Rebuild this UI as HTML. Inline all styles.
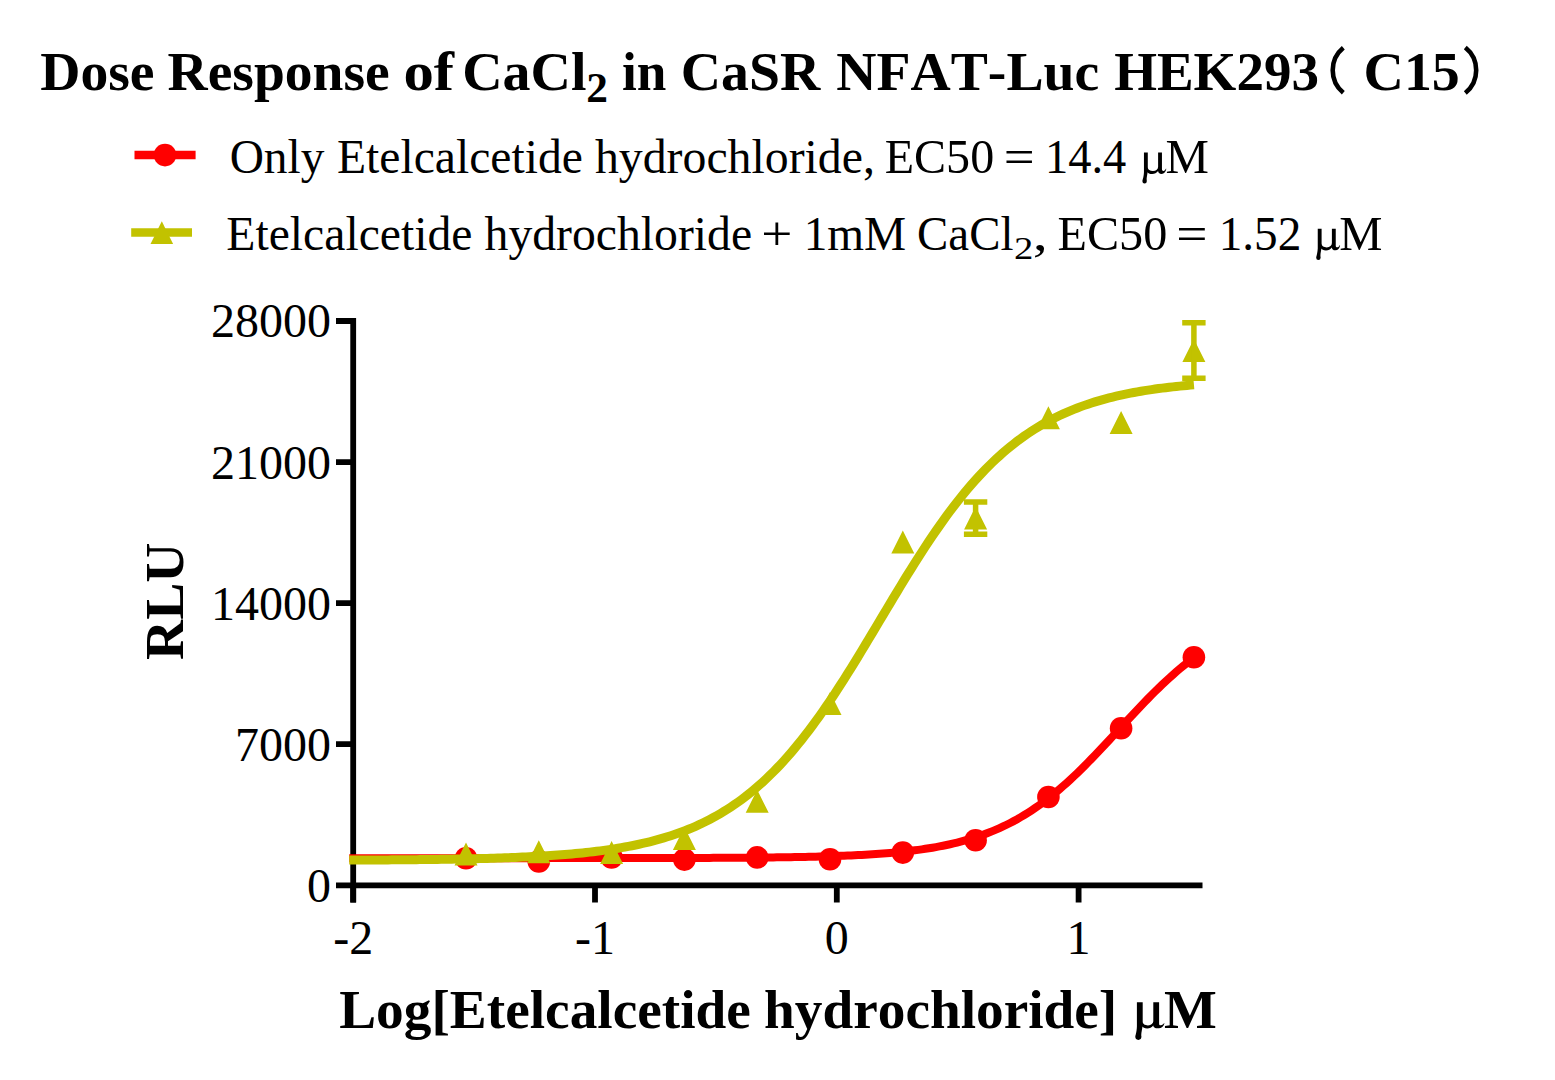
<!DOCTYPE html>
<html><head><meta charset="utf-8"><style>
html,body{margin:0;padding:0;background:#fff;overflow:hidden;width:1555px;height:1080px;}
svg{display:block;}
text{font-kerning:none;}
</style></head><body>
<svg width="1555" height="1080" viewBox="0 0 1555 1080">
<rect width="1555" height="1080" fill="#fff"/>
<path d="M353.2,318 V902.5 M336,321 H356 M336,462.1 H356 M336,603.2 H356 M336,744.2 H356 M336,885.3 H1202.5" stroke="#000" stroke-width="5.8" fill="none"/>
<path d="M353.2,883 V902.5 M595.0,883 V902.5 M836.8,883 V902.5 M1078.6,883 V902.5" stroke="#000" stroke-width="5.8" fill="none"/>
<path d="M349.21,858.14 L352.74,858.14 L356.28,858.14 L359.81,858.14 L363.35,858.14 L366.88,858.14 L370.42,858.14 L373.95,858.14 L377.49,858.14 L381.02,858.14 L384.55,858.14 L388.09,858.14 L391.62,858.14 L395.16,858.14 L398.69,858.14 L402.23,858.14 L405.76,858.14 L409.30,858.14 L412.83,858.14 L416.36,858.14 L419.90,858.14 L423.43,858.14 L426.97,858.14 L430.50,858.14 L434.04,858.14 L437.57,858.14 L441.11,858.14 L444.64,858.14 L448.17,858.14 L451.71,858.14 L455.24,858.14 L458.78,858.13 L462.31,858.13 L465.85,858.13 L469.38,858.13 L472.92,858.13 L476.45,858.13 L479.98,858.13 L483.52,858.13 L487.05,858.13 L490.59,858.13 L494.12,858.13 L497.66,858.13 L501.19,858.13 L504.73,858.13 L508.26,858.13 L511.79,858.13 L515.33,858.13 L518.86,858.13 L522.40,858.13 L525.93,858.13 L529.47,858.13 L533.00,858.13 L536.53,858.13 L540.07,858.12 L543.60,858.12 L547.14,858.12 L550.67,858.12 L554.21,858.12 L557.74,858.12 L561.28,858.12 L564.81,858.12 L568.34,858.12 L571.88,858.11 L575.41,858.11 L578.95,858.11 L582.48,858.11 L586.02,858.11 L589.55,858.11 L593.09,858.10 L596.62,858.10 L600.15,858.10 L603.69,858.10 L607.22,858.09 L610.76,858.09 L614.29,858.09 L617.83,858.09 L621.36,858.08 L624.90,858.08 L628.43,858.08 L631.96,858.07 L635.50,858.07 L639.03,858.06 L642.57,858.06 L646.10,858.05 L649.64,858.05 L653.17,858.04 L656.71,858.04 L660.24,858.03 L663.77,858.02 L667.31,858.02 L670.84,858.01 L674.38,858.00 L677.91,857.99 L681.45,857.98 L684.98,857.97 L688.52,857.96 L692.05,857.95 L695.58,857.94 L699.12,857.93 L702.65,857.92 L706.19,857.90 L709.72,857.89 L713.26,857.87 L716.79,857.86 L720.33,857.84 L723.86,857.82 L727.39,857.80 L730.93,857.78 L734.46,857.76 L738.00,857.74 L741.53,857.71 L745.07,857.69 L748.60,857.66 L752.14,857.63 L755.67,857.60 L759.20,857.56 L762.74,857.53 L766.27,857.49 L769.81,857.45 L773.34,857.41 L776.88,857.36 L780.41,857.31 L783.94,857.26 L787.48,857.21 L791.01,857.15 L794.55,857.09 L798.08,857.03 L801.62,856.96 L805.15,856.89 L808.69,856.81 L812.22,856.73 L815.75,856.64 L819.29,856.55 L822.82,856.45 L826.36,856.35 L829.89,856.24 L833.43,856.12 L836.96,856.00 L840.50,855.87 L844.03,855.73 L847.56,855.58 L851.10,855.42 L854.63,855.26 L858.17,855.08 L861.70,854.90 L865.24,854.70 L868.77,854.49 L872.31,854.27 L875.84,854.03 L879.37,853.78 L882.91,853.52 L886.44,853.24 L889.98,852.94 L893.51,852.62 L897.05,852.29 L900.58,851.94 L904.12,851.57 L907.65,851.17 L911.18,850.75 L914.72,850.31 L918.25,849.84 L921.79,849.35 L925.32,848.82 L928.86,848.27 L932.39,847.68 L935.93,847.07 L939.46,846.41 L942.99,845.72 L946.53,844.99 L950.06,844.23 L953.60,843.42 L957.13,842.56 L960.67,841.66 L964.20,840.71 L967.74,839.71 L971.27,838.66 L974.80,837.55 L978.34,836.39 L981.87,835.16 L985.41,833.88 L988.94,832.53 L992.48,831.11 L996.01,829.63 L999.55,828.07 L1003.08,826.44 L1006.61,824.74 L1010.15,822.96 L1013.68,821.10 L1017.22,819.16 L1020.75,817.13 L1024.29,815.02 L1027.82,812.83 L1031.35,810.55 L1034.89,808.18 L1038.42,805.73 L1041.96,803.18 L1045.49,800.55 L1049.03,797.83 L1052.56,795.02 L1056.10,792.12 L1059.63,789.14 L1063.16,786.08 L1066.70,782.93 L1070.23,779.70 L1073.77,776.40 L1077.30,773.03 L1080.84,769.59 L1084.37,766.08 L1087.91,762.52 L1091.44,758.90 L1094.97,755.23 L1098.51,751.51 L1102.04,747.76 L1105.58,743.98 L1109.11,740.18 L1112.65,736.35 L1116.18,732.52 L1119.72,728.68 L1123.25,724.84 L1126.78,721.01 L1130.32,717.20 L1133.85,713.41 L1137.39,709.65 L1140.92,705.93 L1144.46,702.25 L1147.99,698.61 L1151.53,695.03 L1155.06,691.51 L1158.59,688.05 L1162.13,684.66 L1165.66,681.34 L1169.20,678.09 L1172.73,674.92 L1176.27,671.84 L1179.80,668.83 L1183.34,665.92 L1186.87,663.08 L1190.40,660.34 L1193.94,657.68" stroke="#ff0000" stroke-width="8" fill="none"/>
<circle cx="1193.9" cy="657.3" r="11.3" fill="#ff0000"/>
<circle cx="1121.1" cy="728.3" r="11.3" fill="#ff0000"/>
<circle cx="1048.4" cy="797" r="11.3" fill="#ff0000"/>
<circle cx="975.6" cy="840.3" r="11.3" fill="#ff0000"/>
<circle cx="902.8" cy="852.6" r="11.3" fill="#ff0000"/>
<circle cx="830.0" cy="859.3" r="11.3" fill="#ff0000"/>
<circle cx="757.2" cy="857.4" r="11.3" fill="#ff0000"/>
<circle cx="684.4" cy="859.6" r="11.3" fill="#ff0000"/>
<circle cx="611.6" cy="857.5" r="11.3" fill="#ff0000"/>
<circle cx="538.8" cy="861.4" r="11.3" fill="#ff0000"/>
<circle cx="466.0" cy="858.2" r="11.3" fill="#ff0000"/>
<path d="M349.21,860.10 L352.74,860.09 L356.28,860.07 L359.81,860.06 L363.35,860.04 L366.88,860.02 L370.42,860.00 L373.95,859.98 L377.49,859.96 L381.02,859.94 L384.55,859.91 L388.09,859.89 L391.62,859.86 L395.16,859.84 L398.69,859.81 L402.23,859.78 L405.76,859.75 L409.30,859.72 L412.83,859.68 L416.36,859.65 L419.90,859.61 L423.43,859.57 L426.97,859.53 L430.50,859.48 L434.04,859.44 L437.57,859.39 L441.11,859.34 L444.64,859.28 L448.17,859.23 L451.71,859.17 L455.24,859.11 L458.78,859.04 L462.31,858.97 L465.85,858.90 L469.38,858.83 L472.92,858.75 L476.45,858.67 L479.98,858.58 L483.52,858.49 L487.05,858.39 L490.59,858.29 L494.12,858.18 L497.66,858.07 L501.19,857.96 L504.73,857.83 L508.26,857.71 L511.79,857.57 L515.33,857.43 L518.86,857.28 L522.40,857.12 L525.93,856.96 L529.47,856.79 L533.00,856.61 L536.53,856.42 L540.07,856.22 L543.60,856.01 L547.14,855.79 L550.67,855.56 L554.21,855.32 L557.74,855.06 L561.28,854.80 L564.81,854.52 L568.34,854.23 L571.88,853.92 L575.41,853.60 L578.95,853.26 L582.48,852.91 L586.02,852.53 L589.55,852.14 L593.09,851.74 L596.62,851.31 L600.15,850.86 L603.69,850.39 L607.22,849.89 L610.76,849.38 L614.29,848.83 L617.83,848.26 L621.36,847.67 L624.90,847.04 L628.43,846.39 L631.96,845.71 L635.50,844.99 L639.03,844.24 L642.57,843.45 L646.10,842.63 L649.64,841.77 L653.17,840.86 L656.71,839.92 L660.24,838.93 L663.77,837.90 L667.31,836.82 L670.84,835.69 L674.38,834.52 L677.91,833.28 L681.45,832.00 L684.98,830.65 L688.52,829.25 L692.05,827.78 L695.58,826.26 L699.12,824.66 L702.65,823.00 L706.19,821.27 L709.72,819.46 L713.26,817.58 L716.79,815.62 L720.33,813.58 L723.86,811.46 L727.39,809.25 L730.93,806.96 L734.46,804.58 L738.00,802.10 L741.53,799.54 L745.07,796.87 L748.60,794.11 L752.14,791.24 L755.67,788.28 L759.20,785.21 L762.74,782.03 L766.27,778.75 L769.81,775.36 L773.34,771.86 L776.88,768.25 L780.41,764.53 L783.94,760.69 L787.48,756.75 L791.01,752.69 L794.55,748.52 L798.08,744.23 L801.62,739.84 L805.15,735.34 L808.69,730.73 L812.22,726.02 L815.75,721.20 L819.29,716.28 L822.82,711.26 L826.36,706.15 L829.89,700.94 L833.43,695.65 L836.96,690.28 L840.50,684.82 L844.03,679.30 L847.56,673.70 L851.10,668.05 L854.63,662.34 L858.17,656.57 L861.70,650.77 L865.24,644.93 L868.77,639.05 L872.31,633.16 L875.84,627.24 L879.37,621.32 L882.91,615.40 L886.44,609.48 L889.98,603.57 L893.51,597.68 L897.05,591.82 L900.58,585.99 L904.12,580.20 L907.65,574.46 L911.18,568.77 L914.72,563.14 L918.25,557.58 L921.79,552.08 L925.32,546.66 L928.86,541.32 L932.39,536.06 L935.93,530.90 L939.46,525.82 L942.99,520.84 L946.53,515.97 L950.06,511.19 L953.60,506.52 L957.13,501.95 L960.67,497.50 L964.20,493.15 L967.74,488.91 L971.27,484.79 L974.80,480.78 L978.34,476.88 L981.87,473.09 L985.41,469.41 L988.94,465.85 L992.48,462.39 L996.01,459.05 L999.55,455.81 L1003.08,452.68 L1006.61,449.65 L1010.15,446.73 L1013.68,443.91 L1017.22,441.18 L1020.75,438.56 L1024.29,436.03 L1027.82,433.59 L1031.35,431.25 L1034.89,428.99 L1038.42,426.82 L1041.96,424.73 L1045.49,422.73 L1049.03,420.80 L1052.56,418.95 L1056.10,417.18 L1059.63,415.47 L1063.16,413.84 L1066.70,412.27 L1070.23,410.77 L1073.77,409.33 L1077.30,407.95 L1080.84,406.63 L1084.37,405.37 L1087.91,404.16 L1091.44,403.00 L1094.97,401.89 L1098.51,400.83 L1102.04,399.82 L1105.58,398.85 L1109.11,397.93 L1112.65,397.04 L1116.18,396.20 L1119.72,395.39 L1123.25,394.62 L1126.78,393.88 L1130.32,393.18 L1133.85,392.50 L1137.39,391.86 L1140.92,391.25 L1144.46,390.66 L1147.99,390.11 L1151.53,389.58 L1155.06,389.07 L1158.59,388.58 L1162.13,388.12 L1165.66,387.68 L1169.20,387.26 L1172.73,386.86 L1176.27,386.48 L1179.80,386.11 L1183.34,385.77 L1186.87,385.43 L1190.40,385.12 L1193.94,384.82" stroke="#c2c200" stroke-width="9" fill="none"/>
<path d="M1182.4,362.0 L1193.9,339.0 L1205.4,362.0 Z M1109.6,434.1 L1121.1,411.1 L1132.6,434.1 Z M1036.9,429.3 L1048.4,406.3 L1059.9,429.3 Z M964.1,529.5 L975.6,506.5 L987.1,529.5 Z M891.3,553.5 L902.8,530.5 L914.3,553.5 Z M818.5,715.0 L830.0,692.0 L841.5,715.0 Z M745.7,812.8 L757.2,789.8 L768.7,812.8 Z M672.9,850.0 L684.4,827.0 L695.9,850.0 Z M600.1,863.9 L611.6,840.9 L623.1,863.9 Z M527.3,863.3 L538.8,840.3 L550.3,863.3 Z M454.5,865.6 L466.0,842.6 L477.5,865.6 Z" fill="#c2c200"/>
<path d="M1193.9,322.7 V378.2 M1182.2,322.7 H1205.6 M1182.2,378.2 H1205.6" stroke="#c2c200" stroke-width="5.5" fill="none"/>
<path d="M975.6,501.9 V534.3 M963.9,501.9 H987.3 M963.9,534.3 H987.3" stroke="#c2c200" stroke-width="5.5" fill="none"/>
<path d="M1343.3,47.8 A29.2,29.2 0 0 0 1343.3,92.8 M1465.3,47.5 A29.2,29.2 0 0 1 1465.3,93" stroke="#000" stroke-width="4.6" fill="none"/>
<path d="M134.5,155 H195.6" stroke="#ff0000" stroke-width="8.3"/><circle cx="165" cy="155.1" r="11.3" fill="#ff0000"/>
<path d="M131.2,232.5 H192" stroke="#c2c200" stroke-width="8.3"/><path d="M150.5,243.9 L161.8,221.3 L173.1,243.9 Z" fill="#c2c200"/>
<text transform="translate(40.22,90.4) scale(1.0113,1)" font-family="&quot;Liberation Serif&quot;, serif" font-weight="bold" font-size="55">Dose</text>
<text transform="translate(167.55,90.4) scale(1.0103,1)" font-family="&quot;Liberation Serif&quot;, serif" font-weight="bold" font-size="55">Response</text>
<text transform="translate(403.39,90.4) scale(1.1049,1)" font-family="&quot;Liberation Serif&quot;, serif" font-weight="bold" font-size="55">of</text>
<text transform="translate(462.17,90.4) scale(1.0169,1)" font-family="&quot;Liberation Serif&quot;, serif" font-weight="bold" font-size="55">CaCl</text>
<text transform="translate(621.93,90.4) scale(0.9674,1)" font-family="&quot;Liberation Serif&quot;, serif" font-weight="bold" font-size="55">in</text>
<text transform="translate(680.78,90.4) scale(1.0139,1)" font-family="&quot;Liberation Serif&quot;, serif" font-weight="bold" font-size="55">CaSR</text>
<text transform="translate(836.24,90.4) scale(1.0128,1)" font-family="&quot;Liberation Serif&quot;, serif" font-weight="bold" font-size="55">NFAT-Luc</text>
<text x="1114.16" y="90.4" font-family="&quot;Liberation Serif&quot;, serif" font-weight="bold" font-size="55">HEK293</text>
<text transform="translate(1363.57,90.4) scale(1.0164,1)" font-family="&quot;Liberation Serif&quot;, serif" font-weight="bold" font-size="55">C15</text>
<text transform="translate(586.18,101.6) scale(1.0326,1)" font-family="&quot;Liberation Serif&quot;, serif" font-weight="bold" font-size="42">2</text>
<text transform="translate(229.66,173.2) scale(0.9867,1)" font-family="&quot;Liberation Serif&quot;, serif" font-size="48">Only</text>
<text transform="translate(336.93,173.2) scale(0.9927,1)" font-family="&quot;Liberation Serif&quot;, serif" font-size="48">Etelcalcetide</text>
<text transform="translate(594.93,173.2) scale(0.9958,1)" font-family="&quot;Liberation Serif&quot;, serif" font-size="48">hydrochloride,</text>
<text transform="translate(884.71,173.2) scale(1.0016,1)" font-family="&quot;Liberation Serif&quot;, serif" font-size="48">EC50</text>
<text transform="translate(1003.77,173.2) scale(1.1417,1)" font-family="&quot;Liberation Serif&quot;, serif" font-size="48">=</text>
<text transform="translate(1045.02,173.2) scale(0.9680,1)" font-family="&quot;Liberation Serif&quot;, serif" font-size="48">14.4</text>
<text transform="translate(1165.59,173.2) scale(1.0178,1)" font-family="&quot;Liberation Serif&quot;, serif" font-size="48">M</text>
<path transform="translate(1142.4,173.2) scale(1.0)" d="M1.55,-20.8 H5.4 V-6 C5.4,-3.4 7.550000000000001,-2.2 10.55,-2.2 C13.75,-2.2 15.7,-4.2 15.7,-6.5 V-20.8 H19.55 V-4.2 C19.55,-2.4 20.45,-2.1 21.45,-2.3 C22.35,-2.5 23.2,-3.6 23.599999999999998,-4.6 L23.9,-4.2 C23.2,-1.2 21.75,0.7 19.25,0.7 C16.9,0.7 15.799999999999999,-0.6 15.7,-2.2 C14.1,-0.4 12.350000000000001,0.9 9.75,0.9 C7.0,0.9 5.800000000000001,-0.1 5.2,-1.0 C4.9,1.5 4.0,4.900000000000001 4.300000000000001,6.900000000000001 C4.5,8.400000000000002 4.4,8.100000000000001 4.4,8.100000000000001 A2.2,2.2 0 1 1 0,8.100000000000001 C0,6.600000000000001 1.25,4.600000000000001 1.55,-1 Z" fill="#000"/>
<text transform="translate(226.33,249.6) scale(0.9931,1)" font-family="&quot;Liberation Serif&quot;, serif" font-size="48">Etelcalcetide</text>
<text transform="translate(484.53,249.6) scale(0.9939,1)" font-family="&quot;Liberation Serif&quot;, serif" font-size="48">hydrochloride</text>
<text transform="translate(761.15,249.6) scale(1.1506,1)" font-family="&quot;Liberation Serif&quot;, serif" font-size="48">+</text>
<text transform="translate(803.64,249.6) scale(0.9859,1)" font-family="&quot;Liberation Serif&quot;, serif" font-size="48">1mM</text>
<text transform="translate(917.08,249.6) scale(0.9766,1)" font-family="&quot;Liberation Serif&quot;, serif" font-size="48">CaCl</text>
<text transform="translate(1032.70,249.6) scale(1.2590,1)" font-family="&quot;Liberation Serif&quot;, serif" font-size="48">,</text>
<text transform="translate(1057.51,249.6) scale(1.0035,1)" font-family="&quot;Liberation Serif&quot;, serif" font-size="48">EC50</text>
<text transform="translate(1176.24,249.6) scale(1.1551,1)" font-family="&quot;Liberation Serif&quot;, serif" font-size="48">=</text>
<text transform="translate(1218.65,249.6) scale(0.9840,1)" font-family="&quot;Liberation Serif&quot;, serif" font-size="48">1.52</text>
<text transform="translate(1339.20,249.6) scale(1.0128,1)" font-family="&quot;Liberation Serif&quot;, serif" font-size="48">M</text>
<text transform="translate(1014.00,259) scale(1.2473,1)" font-family="&quot;Liberation Serif&quot;, serif" font-size="31">2</text>
<path transform="translate(1316.2,249.6) scale(1.0)" d="M1.55,-20.8 H5.4 V-6 C5.4,-3.4 7.550000000000001,-2.2 10.55,-2.2 C13.75,-2.2 15.7,-4.2 15.7,-6.5 V-20.8 H19.55 V-4.2 C19.55,-2.4 20.45,-2.1 21.45,-2.3 C22.35,-2.5 23.2,-3.6 23.599999999999998,-4.6 L23.9,-4.2 C23.2,-1.2 21.75,0.7 19.25,0.7 C16.9,0.7 15.799999999999999,-0.6 15.7,-2.2 C14.1,-0.4 12.350000000000001,0.9 9.75,0.9 C7.0,0.9 5.800000000000001,-0.1 5.2,-1.0 C4.9,1.5 4.0,4.900000000000001 4.300000000000001,6.900000000000001 C4.5,8.400000000000002 4.4,8.100000000000001 4.4,8.100000000000001 A2.2,2.2 0 1 1 0,8.100000000000001 C0,6.600000000000001 1.25,4.600000000000001 1.55,-1 Z" fill="#000"/>
<text x="331" y="337.4" font-family="&quot;Liberation Serif&quot;, serif" font-size="48" text-anchor="end">28000</text>
<text x="331" y="478.5" font-family="&quot;Liberation Serif&quot;, serif" font-size="48" text-anchor="end">21000</text>
<text x="331" y="619.6" font-family="&quot;Liberation Serif&quot;, serif" font-size="48" text-anchor="end">14000</text>
<text x="331" y="760.6" font-family="&quot;Liberation Serif&quot;, serif" font-size="48" text-anchor="end">7000</text>
<text x="331" y="901.7" font-family="&quot;Liberation Serif&quot;, serif" font-size="48" text-anchor="end">0</text>
<text x="353.2" y="953.8" font-family="&quot;Liberation Serif&quot;, serif" font-size="48" text-anchor="middle">-2</text>
<text x="595.0" y="953.8" font-family="&quot;Liberation Serif&quot;, serif" font-size="48" text-anchor="middle">-1</text>
<text x="836.8" y="953.8" font-family="&quot;Liberation Serif&quot;, serif" font-size="48" text-anchor="middle">0</text>
<text x="1078.6" y="953.8" font-family="&quot;Liberation Serif&quot;, serif" font-size="48" text-anchor="middle">1</text>
<text transform="translate(339.15,1027.6) scale(1.0063,1)" font-family="&quot;Liberation Serif&quot;, serif" font-weight="bold" font-size="55">Log[Etelcalcetide</text>
<text transform="translate(764.12,1027.6) scale(1.0051,1)" font-family="&quot;Liberation Serif&quot;, serif" font-weight="bold" font-size="55">hydrochloride]</text>
<text transform="translate(1163.94,1027.6) scale(1.0185,1)" font-family="&quot;Liberation Serif&quot;, serif" font-weight="bold" font-size="55">M</text>
<path transform="translate(1135.3,1027.6) scale(1.0)" d="M1.6,-25.4 H7.4 V-6 C7.4,-3.4 9.7,-2.2 12.7,-2.2 C15.899999999999999,-2.2 18.0,-4.2 18.0,-6.5 V-25.4 H23.8 V-4.2 C23.8,-2.4 24.7,-2.1 25.7,-2.3 C26.6,-2.5 28.4,-3.6 28.799999999999997,-4.6 L29.099999999999998,-4.2 C28.4,-1.2 26.0,0.7 23.5,0.7 C19.2,0.7 18.1,-0.6 18.0,-2.2 C16.4,-0.4 14.5,0.9 11.899999999999999,0.9 C9.0,0.9 7.800000000000001,-0.1 7.2,-1.0 C6.9,1.5 5.699999999999999,6.05 6.0,8.05 C6.199999999999999,9.55 6.1,9.25 6.1,9.25 A3.05,3.05 0 1 1 0,9.25 C0,7.75 1.3,5.75 1.6,-1 Z" fill="#000"/>
<g transform="translate(183.2,659) rotate(-90)"><text transform="translate(-0.95,0) scale(1.0104,1)" font-family="&quot;Liberation Serif&quot;, serif" font-weight="bold" font-size="55">RLU</text></g>
</svg></body></html>
